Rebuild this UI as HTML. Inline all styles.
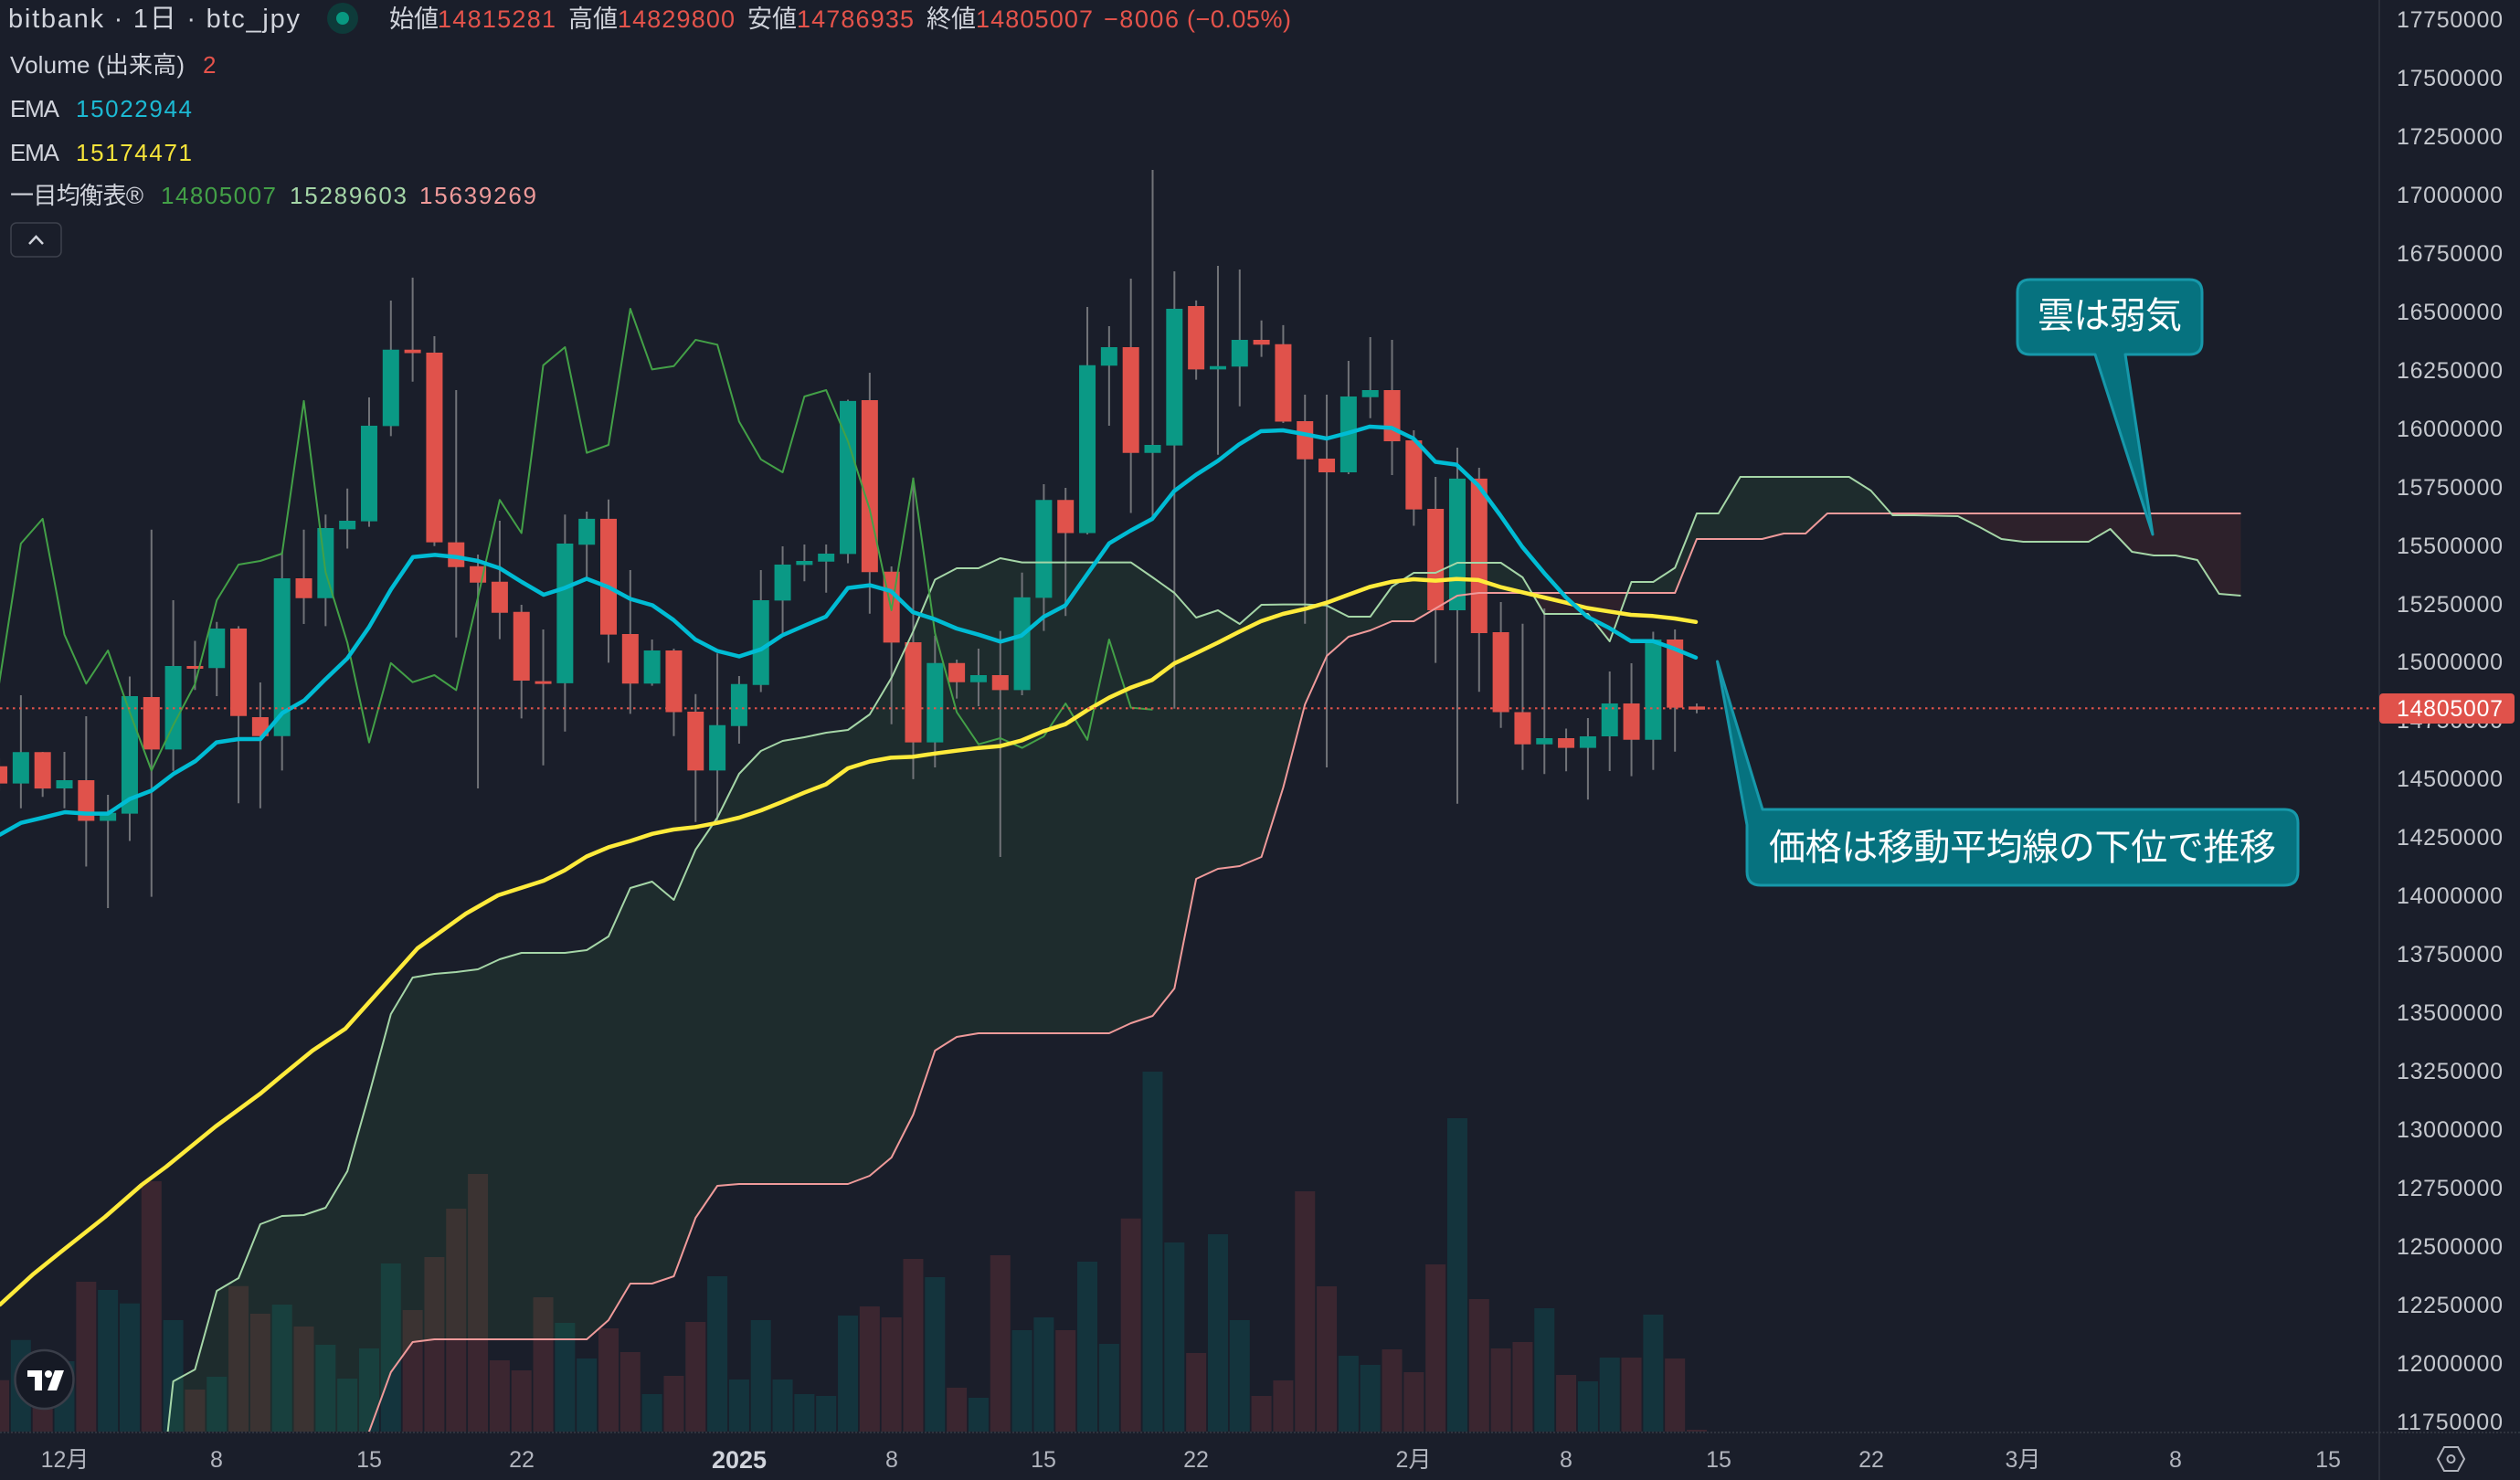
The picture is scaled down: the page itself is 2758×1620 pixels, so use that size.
<!DOCTYPE html>
<html><head><meta charset="utf-8">
<style>
html,body{margin:0;padding:0;background:#1a1e2a;}
body{width:2758px;height:1620px;overflow:hidden;position:relative;}
svg{position:absolute;left:0;top:0;display:block;}
text{font-family:"Liberation Sans","Noto Sans CJK JP",sans-serif;}
</style></head><body>
<svg width="2758" height="1620" xmlns="http://www.w3.org/2000/svg" overflow="hidden">
<defs>
<clipPath id="pc"><rect x="0" y="0" width="2603" height="1567"/></clipPath>
<clipPath id="aboveB"><polygon points="4,1600 13,1600 14,1567 15,1502 16,1469 17,1466 24,1466 25,1445 26,1405 27,1405 28,1397 29,1333 30,1298 31,1296 36,1296 37,1287 38,1267 39,1220 40,1150 41,1135 42,1131 48,1131 49,1120 50,1112 51,1082 52,962 53,951 54,948 55,938 56,862 57,771 58,718 59,697 60,690 61,680 62,680 63,666 64,652 65,649 74,649 75,590 78,590 79,584 80,584 81,562 100,562 100,0 4,0"/></clipPath>
<clipPath id="aboveA"><polygon points="4.6,1600 5,1512 6,1499 7,1413 8,1399 9,1340 10,1331 11,1330 12,1322 13,1282 14,1198 15,1110 16,1070 17,1066 18,1064 19,1061 20,1050 21,1043 22,1043 23,1043 24,1040 25,1025 26,972 27,965 28,985 29,930 30,895 31,847 32,822 33,811 34,807 35,802 36,799 37,782 38,742 39,691 40,634.5 41,622 42,622 43,611 44,615.6 49,615.6 50,632 51,649 52,676 53,668 54,683 55,662 56,661.6 57,661.6 58,662.8 59,675 60,675 61,642 62,627 63,627 64,616 66,616 67,632 68,672 70,672 71,702 72,637 73,637 74,621.5 75,562 76,562 77,522 82,522 83,537 84,564 85,564 86,564.5 87,565 88,577 89,590 90,593 93,593 94,579 95,604 96,608 97,608 98,613 99,650 100,652 100,0 4.6,0"/></clipPath>
</defs>
<rect width="2758" height="1620" fill="#1a1e2a"/>

<g clip-path="url(#pc)">
<g transform="translate(70.5,0) scale(23.82,1)">
<!-- volume teal -->
<path fill="#14343d" d="M-2.462,1466.7h.924V1567h-.924Z M-.462,1490h.924V1567h-.924Z M1.538,1412h.924V1567h-.924Z M2.538,1426.7h.924V1567h-.924Z M4.538,1445h.924V1567h-.924Z M6.538,1507h.924V1567h-.924Z M9.538,1428h.924V1567h-.924Z M11.538,1472h.924V1567h-.924Z M12.538,1509h.924V1567h-.924Z M13.538,1476h.924V1567h-.924Z M14.538,1383h.924V1567h-.924Z M22.538,1448h.924V1567h-.924Z M23.538,1487h.924V1567h-.924Z M26.538,1526h.924V1567h-.924Z M29.538,1397h.924V1567h-.924Z M30.538,1510h.924V1567h-.924Z M31.538,1445h.924V1567h-.924Z M32.538,1510h.924V1567h-.924Z M33.538,1526h.924V1567h-.924Z M34.538,1528h.924V1567h-.924Z M35.538,1440h.924V1567h-.924Z M39.538,1398h.924V1567h-.924Z M41.538,1530h.924V1567h-.924Z M43.538,1456h.924V1567h-.924Z M44.538,1442h.924V1567h-.924Z M46.538,1381h.924V1567h-.924Z M47.538,1471h.924V1567h-.924Z M49.538,1173h.924V1567h-.924Z M50.538,1360h.924V1567h-.924Z M52.538,1351h.924V1567h-.924Z M53.538,1445h.924V1567h-.924Z M58.538,1484h.924V1567h-.924Z M59.538,1494h.924V1567h-.924Z M63.538,1224h.924V1567h-.924Z M67.538,1432h.924V1567h-.924Z M69.538,1512h.924V1567h-.924Z M70.538,1486h.924V1567h-.924Z M72.538,1439h.924V1567h-.924Z"/>
<!-- volume red -->
<path fill="#3b2630" d="M-3.462,1510.7h.924V1567h-.924Z M-1.462,1530h.924V1567h-.924Z M.538,1403h.924V1567h-.924Z M3.538,1293h.924V1567h-.924Z M5.538,1521h.924V1567h-.924Z M7.538,1407.7h.924V1567h-.924Z M8.538,1438h.924V1567h-.924Z M10.538,1452h.924V1567h-.924Z M15.538,1434h.924V1567h-.924Z M16.538,1376h.924V1567h-.924Z M17.538,1323h.924V1567h-.924Z M18.538,1285h.924V1567h-.924Z M19.538,1489h.924V1567h-.924Z M20.538,1500h.924V1567h-.924Z M21.538,1420h.924V1567h-.924Z M24.538,1454h.924V1567h-.924Z M25.538,1480h.924V1567h-.924Z M27.538,1506h.924V1567h-.924Z M28.538,1447h.924V1567h-.924Z M36.538,1430h.924V1567h-.924Z M37.538,1442h.924V1567h-.924Z M38.538,1378h.924V1567h-.924Z M40.538,1519h.924V1567h-.924Z M42.538,1374h.924V1567h-.924Z M45.538,1456h.924V1567h-.924Z M48.538,1333.7h.924V1567h-.924Z M51.538,1481h.924V1567h-.924Z M54.538,1528h.924V1567h-.924Z M55.538,1511h.924V1567h-.924Z M56.538,1304h.924V1567h-.924Z M57.538,1408h.924V1567h-.924Z M60.538,1477h.924V1567h-.924Z M61.538,1502h.924V1567h-.924Z M62.538,1384h.924V1567h-.924Z M64.538,1422h.924V1567h-.924Z M65.538,1476h.924V1567h-.924Z M66.538,1469h.924V1567h-.924Z M68.538,1505h.924V1567h-.924Z M71.538,1486h.924V1567h-.924Z M73.538,1487h.924V1567h-.924Z M74.538,1565h.924V1567h-.924Z"/>

<!-- cloud fills -->
<polygon clip-path="url(#aboveB)" fill="#43a047" fill-opacity="0.11" points="4.6,1600 5,1512 6,1499 7,1413 8,1399 9,1340 10,1331 11,1330 12,1322 13,1282 14,1198 15,1110 16,1070 17,1066 18,1064 19,1061 20,1050 21,1043 22,1043 23,1043 24,1040 25,1025 26,972 27,965 28,985 29,930 30,895 31,847 32,822 33,811 34,807 35,802 36,799 37,782 38,742 39,691 40,634.5 41,622 42,622 43,611 44,615.6 49,615.6 50,632 51,649 52,676 53,668 54,683 55,662 56,661.6 57,661.6 58,662.8 59,675 60,675 61,642 62,627 63,627 64,616 66,616 67,632 68,672 70,672 71,702 72,637 73,637 74,621.5 75,562 76,562 77,522 82,522 83,537 84,564 85,564 86,564.5 87,565 88,577 89,590 90,593 93,593 94,579 95,604 96,608 97,608 98,613 99,650 100,652 100,1600"/>
<polygon clip-path="url(#aboveA)" fill="#f44336" fill-opacity="0.09" points="4,1600 13,1600 14,1567 15,1502 16,1469 17,1466 24,1466 25,1445 26,1405 27,1405 28,1397 29,1333 30,1298 31,1296 36,1296 37,1287 38,1267 39,1220 40,1150 41,1135 42,1131 48,1131 49,1120 50,1112 51,1082 52,962 53,951 54,948 55,938 56,862 57,771 58,718 59,697 60,690 61,680 62,680 63,666 64,652 65,649 74,649 75,590 78,590 79,584 80,584 81,562 100,562 100,1600"/>

<!-- wicks -->
<path fill="none" stroke="#717378" stroke-width="2" vector-effect="non-scaling-stroke" d="M-3,830V866 M-2,761V884.7 M-1,823V872.3 M0,823V884.7 M1,784V948.5 M2,870V994 M3,740.5V920.5 M4,579.8V981.6 M5,657V843.8 M6,701.5V755.2 M7,680.8V762 M8,685.4V879.2 M9,747V884.7 M10,603.7V843.4 M11,579.8V683 M12,563.3V685.4 M13,534.8V600.5 M14,435V576.6 M15,329V477.4 M16,303.9V417.7 M17,368V597.7 M18,427V697.8 M19,607V863 M20,570V699.6 M21,662V786.4 M22,689V837.8 M23,563.3V800.7 M24,560V633.5 M25,546.8V725.4 M26,624V781.4 M27,700V750.6 M28,710V805.7 M29,759.8V899.8 M30,715.3V899.8 M31,740V814 M32,624V757.5 M33,598V694.6 M34,596V636.3 M35,596V648.7 M36,437.5V616.5 M37,408V671.7 M38,620V792.7 M39,522.8V852.9 M40,695.7V840 M41,722V764.6 M42,710V773 M43,690.6V938 M44,626.8V761 M45,530V690.6 M46,534V674.3 M47,336V585 M48,357V466 M49,305V561.5 M50,186V566.6 M51,297V775.8 M52,328.9V415.6 M53,291V497.8 M54,295V444.7 M55,350.8V390.6 M56,355.9V463 M57,432V682.7 M58,432V840 M59,395V519 M60,369V457.7 M61,372V520 M62,471V575.5 M63,522V725.6 M64,490V879.8 M65,512V757.3 M66,659V796.7 M67,682.7V842.7 M68,666V847.3 M69,797.5V844.2 M70,786V875.2 M71,735V844 M72,726V849.6 M73,691.5V842.7 M74,689V822.8 M75,770V780.7"/>
<!-- green bodies -->
<path fill="#0a9985" d="M-2.378,823.2h.756V857.6h-.756Z M-.378,854h.756V863h-.756Z M1.622,889.7h.756V898.5h-.756Z M2.622,762h.756V890.6h-.756Z M4.622,729h.756V820.4h-.756Z M6.622,688h.756V731.3h-.756Z M9.622,633h.756V805.7h-.756Z M11.622,578h.756V654.7h-.756Z M12.622,570h.756V579.4h-.756Z M13.622,466h.756V570.6h-.756Z M14.622,382.8h.756V466.4h-.756Z M22.622,595h.756V747.9h-.756Z M23.622,567.9h.756V596.3h-.756Z M26.622,712h.756V748.3h-.756Z M29.622,793.8h.756V843.4h-.756Z M30.622,748.8h.756V794.7h-.756Z M31.622,657h.756V749.7h-.756Z M32.622,618h.756V657.4h-.756Z M33.622,614h.756V618.4h-.756Z M34.622,606h.756V614.7h-.756Z M35.622,438.9h.756V606.4h-.756Z M39.622,725.8h.756V812.6h-.756Z M41.622,739h.756V746.7h-.756Z M43.622,653.9h.756V755.4h-.756Z M44.622,547.2h.756V654.4h-.756Z M46.622,399.8h.756V583.5h-.756Z M47.622,380h.756V400.3h-.756Z M49.622,487h.756V495.7h-.756Z M50.622,338h.756V487.6h-.756Z M52.622,400.8h.756V404.4h-.756Z M53.622,372h.756V401.3h-.756Z M58.622,434h.756V517h-.756Z M59.622,427h.756V434.7h-.756Z M63.622,523.9h.756V668h-.756Z M67.622,808h.756V814.7h-.756Z M69.622,806h.756V818.6h-.756Z M70.622,770h.756V806h-.756Z M72.622,700h.756V809.8h-.756Z"/>
<!-- red bodies -->
<path fill="#e0524b" d="M-3.378,838.8h.756V857.6h-.756Z M-1.378,823.2h.756V863.1h-.756Z M.622,854h.756V898.5h-.756Z M3.622,763h.756V820.4h-.756Z M5.622,729h.756V732h-.756Z M7.622,688h.756V783.7h-.756Z M8.622,785h.756V805.7h-.756Z M10.622,633h.756V654.7h-.756Z M15.622,382.8h.756V386.5h-.756Z M16.622,386h.756V593.6h-.756Z M17.622,593.6h.756V620.7h-.756Z M18.622,619.8h.756V637.7h-.756Z M19.622,636.7h.756V670.7h-.756Z M20.622,669.8h.756V745h-.756Z M21.622,745.6h.756V748.6h-.756Z M24.622,567.9h.756V694.6h-.756Z M25.622,694h.756V748.3h-.756Z M27.622,712h.756V779.5h-.756Z M28.622,779h.756V843.4h-.756Z M36.622,438h.756V626.3h-.756Z M37.622,625.8h.756V703.4h-.756Z M38.622,703h.756V812.6h-.756Z M40.622,725.8h.756V746.7h-.756Z M42.622,739h.756V755.4h-.756Z M45.622,547.2h.756V583.5h-.756Z M48.622,380h.756V495.7h-.756Z M51.622,335h.756V404.4h-.756Z M54.622,372h.756V377.3h-.756Z M55.622,376.8h.756V461.5h-.756Z M56.622,461h.756V502.8h-.756Z M57.622,502h.756V517h-.756Z M60.622,427h.756V483h-.756Z M61.622,482h.756V557.6h-.756Z M62.622,557h.756V668h-.756Z M64.622,523.9h.756V693h-.756Z M65.622,692h.756V779.5h-.756Z M66.622,779.5h.756V814.7h-.756Z M68.622,808h.756V818.6h-.756Z M71.622,770h.756V809.8h-.756Z M73.622,700h.756V774.6h-.756Z M74.622,773.4h.756V776.8h-.756Z"/>

<!-- senkou B -->
<polyline fill="none" stroke="#ef9a9a" stroke-width="2" vector-effect="non-scaling-stroke" stroke-linejoin="round" points="13,1600 14,1567 15,1502 16,1469 17,1466 24,1466 25,1445 26,1405 27,1405 28,1397 29,1333 30,1298 31,1296 36,1296 37,1287 38,1267 39,1220 40,1150 41,1135 42,1131 48,1131 49,1120 50,1112 51,1082 52,962 53,951 54,948 55,938 56,862 57,771 58,718 59,697 60,690 61,680 62,680 63,666 64,652 65,649 74,649 75,590 78,590 79,584 80,584 81,562 100,562"/>
<!-- senkou A -->
<polyline fill="none" stroke="#a5d6a7" stroke-width="2" vector-effect="non-scaling-stroke" stroke-linejoin="round" points="4.6,1600 5,1512 6,1499 7,1413 8,1399 9,1340 10,1331 11,1330 12,1322 13,1282 14,1198 15,1110 16,1070 17,1066 18,1064 19,1061 20,1050 21,1043 22,1043 23,1043 24,1040 25,1025 26,972 27,965 28,985 29,930 30,895 31,847 32,822 33,811 34,807 35,802 36,799 37,782 38,742 39,691 40,634.5 41,622 42,622 43,611 44,615.6 49,615.6 50,632 51,649 52,676 53,668 54,683 55,662 56,661.6 57,661.6 58,662.8 59,675 60,675 61,642 62,627 63,627 64,616 66,616 67,632 68,672 70,672 71,702 72,637 73,637 74,621.5 75,562 76,562 77,522 82,522 83,537 84,564 85,564 86,564.5 87,565 88,577 89,590 90,593 93,593 94,579 95,604 96,608 97,608 98,613 99,650 100,652"/>
<!-- chikou span -->
<polyline fill="none" stroke="#43a047" stroke-width="2" vector-effect="non-scaling-stroke" stroke-linejoin="round" points="-4,745 -3,748.3 -2,595 -1,567.9 0,694.6 1,748.3 2,712 3,779.5 4,843.4 5,793.8 6,748.8 7,657 8,618 9,614 10,606 11,438.9 12,626.3 13,703.4 14,812.6 15,725.8 16,746.7 17,739 18,755.4 19,653.9 20,547.2 21,583.5 22,399.8 23,380 24,495.7 25,487 26,338 27,404.4 28,400.8 29,372 30,377.3 31,461.5 32,502.8 33,517 34,434 35,427 36,483 37,557.6 38,668 39,523.9 40,693 41,779.5 42,814.7 43,808 44,818.6 45,806 46,770 47,809.8 48,700 49,774.6 50,776.8"/>
</g>

<!-- EMA 50 (yellow) -->
<polyline fill="none" stroke="#ffeb3b" stroke-width="4.5" stroke-linejoin="round" stroke-linecap="round" points="0,1428 36,1395 67,1370 115,1332 155,1297 182,1277 236,1233 285,1197 309,1177 342,1150 378,1126 422,1077 457,1038 510,1000 545,980 595,964 618,952.6 642,937.5 666,927.4 690,920.5 714,912.7 737,908 761,905.3 785,900.7 809,895 833,887 856,877.8 880,867.7 904,858.5 928,841 952,833.5 975,829.4 999,828.4 1023,824.8 1047,821.7 1071,818.7 1095,816.6 1118,810.5 1142,800.3 1166,792.7 1190,777.3 1214,763.6 1237,752.9 1261,744.2 1285,726.3 1309,715 1333,703.4 1356,691.6 1380,680 1404,672 1428,666.6 1452,659.7 1475,651.3 1499,642.5 1523,636.8 1547,634 1571,635.6 1594,633.7 1618,634.9 1642,642.5 1666,648.3 1690,654 1714,659.7 1737,665.5 1761,669.3 1785,673 1809,674.3 1833,677 1856,680.8"/>
<!-- EMA 20 (cyan) -->
<polyline fill="none" stroke="#00bcd4" stroke-width="4.5" stroke-linejoin="round" stroke-linecap="round" points="0,913.6 23,900.7 47,895 71,889 95,890.6 118,890.6 142,874.6 166,865.4 190,847 214,833 237,812.6 261,809 285,809 309,780.5 333,766.7 356,743.7 380,720.8 404,686.3 428,645 452,609.7 476,607.4 499,609.7 523,614 547,622 571,637 595,651 618,643.6 642,633.5 666,642.7 690,655.6 714,662.5 737,678.5 761,700 785,712.5 809,718.5 833,710.7 856,695.5 880,685 904,674.9 928,643.6 952,640.6 975,647 999,670 1023,677.8 1047,688 1071,694.7 1095,702.3 1118,695.7 1142,675.3 1166,662.6 1190,628.4 1214,594.7 1237,581 1261,568 1285,537.6 1309,519.7 1333,504.4 1356,486.5 1380,472 1404,471 1428,475.3 1452,480 1475,474 1499,467 1523,468.4 1547,480 1571,505.5 1594,508.6 1618,531.5 1642,564 1666,598.5 1690,627.2 1714,654 1737,675 1761,687.3 1785,701.8 1809,701.8 1833,710.3 1856,719.8"/>
</g>

<!-- current price dotted line -->
<line x1="0" y1="775.3" x2="2603" y2="775.3" stroke="#e0524b" stroke-width="2.2" stroke-dasharray="2.5 4.5"/>
<!-- separators -->
<line x1="2604" y1="0" x2="2604" y2="1620" stroke="#2b2f3a" stroke-width="2"/>
<line x1="0" y1="1568" x2="2758" y2="1568" stroke="#363a45" stroke-width="1.5" stroke-dasharray="2 2"/>

<!-- callouts -->
<path d="M2222,306 H2396 Q2410,306 2410,320 V374 Q2410,388 2396,388 H2326 L2356,585 L2293,388 H2222 Q2208,388 2208,374 V320 Q2208,306 2222,306 Z" fill="#06727f" stroke="#1798aa" stroke-width="3" stroke-linejoin="round"/>
<text x="2230" y="346" font-size="40" fill="#ffffff" dominant-baseline="central" textLength="158">雲は弱気</text>
<path d="M1929,886 H2500 Q2515,886 2515,901 V954 Q2515,969 2500,969 H1927 Q1912,969 1912,954 V903 L1879.5,724 Z" fill="#06727f" stroke="#1798aa" stroke-width="3" stroke-linejoin="round"/>
<text x="1936" y="928" font-size="40" fill="#ffffff" dominant-baseline="central" textLength="555">価格は移動平均線の下位で推移</text>

<!-- header legend -->
<g fill="#d1d4dc" dominant-baseline="central" font-size="27">
<text x="9" y="21" font-size="29" textLength="319">bitbank · 1日 · btc_jpy</text>
<circle cx="375" cy="20" r="17" fill="#0e3b3a"/>
<circle cx="375" cy="20" r="7" fill="#089981"/>
<text x="426" y="21">始値</text><text x="479" y="21" fill="#e5534b" textLength="129">14815281</text>
<text x="622" y="21">高値</text><text x="676" y="21" fill="#e5534b" textLength="128">14829800</text>
<text x="818" y="21">安値</text><text x="872" y="21" fill="#e5534b" textLength="128">14786935</text>
<text x="1014" y="21">終値</text><text x="1068" y="21" fill="#e5534b" textLength="128">14805007</text>
<text x="1208" y="21" fill="#e5534b" textLength="82">−8006</text>
<text x="1299" y="21" fill="#e5534b" textLength="114">(−0.05%)</text>
<text x="11" y="71" font-size="26" textLength="191">Volume (出来高)</text>
<text x="222" y="71" font-size="26" fill="#e5534b">2</text>
<text x="11" y="119" font-size="26" textLength="54">EMA</text>
<text x="83" y="119" font-size="26" fill="#1cb9d3" textLength="127">15022944</text>
<text x="11" y="167" font-size="26" textLength="54">EMA</text>
<text x="83" y="167" font-size="26" fill="#f7e43a" textLength="127">15174471</text>
<text x="11" y="214" font-size="26" textLength="146">一目均衡表®</text>
<text x="176" y="214" font-size="26" fill="#43a047" textLength="126">14805007</text>
<text x="317" y="214" font-size="26" fill="#a5d6a7" textLength="128">15289603</text>
<text x="459" y="214" font-size="26" fill="#ef9a9a" textLength="128">15639269</text>
</g>
<rect x="12" y="244" width="55" height="37" rx="6" fill="none" stroke="#3d414c" stroke-width="1.5"/>
<polyline points="32,267 39.5,259 47,267" fill="none" stroke="#d1d4dc" stroke-width="2.5"/>

<!-- price axis -->
<g font-size="25" fill="#c5c8ce" dominant-baseline="central">
<text x="2623" y="22" textLength="116">17750000</text>
<text x="2623" y="86" textLength="116">17500000</text>
<text x="2623" y="150" textLength="116">17250000</text>
<text x="2623" y="214" textLength="116">17000000</text>
<text x="2623" y="278" textLength="116">16750000</text>
<text x="2623" y="342" textLength="116">16500000</text>
<text x="2623" y="406" textLength="116">16250000</text>
<text x="2623" y="470" textLength="116">16000000</text>
<text x="2623" y="534" textLength="116">15750000</text>
<text x="2623" y="598" textLength="116">15500000</text>
<text x="2623" y="662" textLength="116">15250000</text>
<text x="2623" y="725" textLength="116">15000000</text>
<text x="2623" y="789" textLength="116">14750000</text>
<text x="2623" y="853" textLength="116">14500000</text>
<text x="2623" y="917" textLength="116">14250000</text>
<text x="2623" y="981" textLength="116">14000000</text>
<text x="2623" y="1045" textLength="116">13750000</text>
<text x="2623" y="1109" textLength="116">13500000</text>
<text x="2623" y="1173" textLength="116">13250000</text>
<text x="2623" y="1237" textLength="116">13000000</text>
<text x="2623" y="1301" textLength="116">12750000</text>
<text x="2623" y="1365" textLength="116">12500000</text>
<text x="2623" y="1429" textLength="116">12250000</text>
<text x="2623" y="1493" textLength="116">12000000</text>
<text x="2623" y="1557" textLength="116">11750000</text>
</g>
<rect x="2604" y="759" width="148" height="33" rx="4" fill="#e0524b"/>
<text x="2623" y="776" font-size="25" fill="#ffffff" dominant-baseline="central" textLength="116">14805007</text>

<!-- time axis -->
<g font-size="25" fill="#b2b5be" text-anchor="middle" dominant-baseline="central">
<text x="71" y="1598">12月</text>
<text x="237" y="1598">8</text>
<text x="404" y="1598">15</text>
<text x="571" y="1598">22</text>
<text x="809" y="1598" font-weight="bold" fill="#d1d4dc" font-size="27">2025</text>
<text x="976" y="1598">8</text>
<text x="1142" y="1598">15</text>
<text x="1309" y="1598">22</text>
<text x="1547" y="1598">2月</text>
<text x="1714" y="1598">8</text>
<text x="1881" y="1598">15</text>
<text x="2048" y="1598">22</text>
<text x="2214" y="1598">3月</text>
<text x="2381" y="1598">8</text>
<text x="2548" y="1598">15</text>
</g>
<!-- settings hex icon -->
<polygon points="2668,1597 2675,1584 2690,1584 2697,1597 2690,1610 2675,1610" fill="none" stroke="#b2b5be" stroke-width="2"/>
<circle cx="2682.5" cy="1597" r="4" fill="none" stroke="#b2b5be" stroke-width="2"/>

<!-- TV logo -->
<circle cx="48.5" cy="1510" r="32" fill="#161a25" stroke="#3a3e49" stroke-width="2.5"/>
<rect x="30" y="1500" width="16" height="7" fill="#ffffff"/>
<rect x="38" y="1500" width="8" height="22" fill="#ffffff"/>
<circle cx="53" cy="1504" r="4" fill="#ffffff"/>
<polygon points="60,1500 70,1500 62,1522 52,1522" fill="#ffffff"/>
</svg>
</body></html>
